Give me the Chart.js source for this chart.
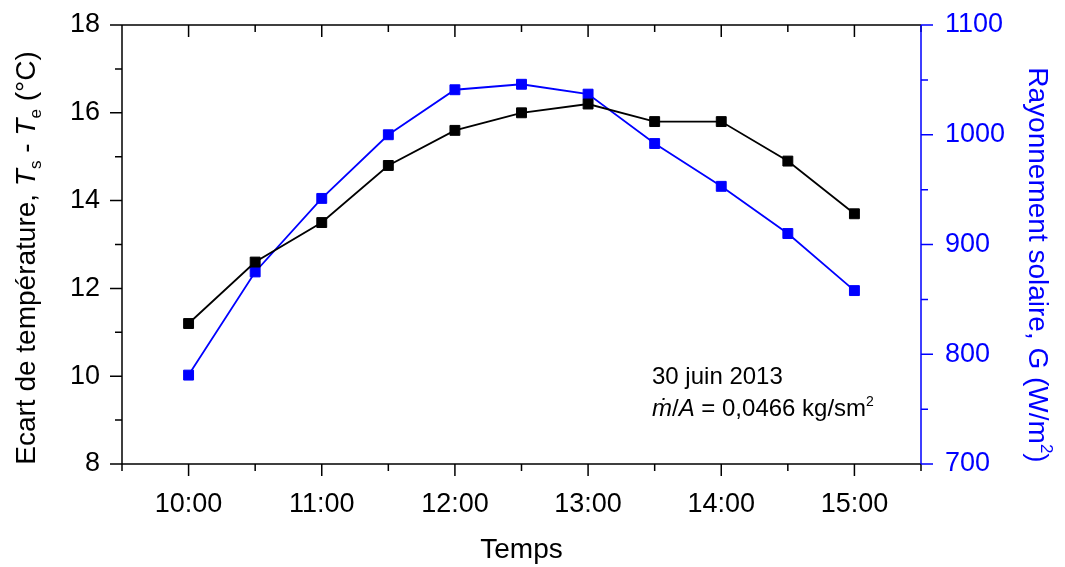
<!DOCTYPE html>
<html>
<head>
<meta charset="utf-8">
<script src="https://cdn.jsdelivr.net/npm/chart.js"></script>
<style>
html, body { margin: 0; padding: 0; background: #fff; }
#wrap { width: 1065px; height: 567px; }
</style>
</head>
<body>
<div id="wrap"><canvas id="myChart"></canvas></div>
<script>
// data
const hours = [10, 10.5, 11, 11.5, 12, 12.5, 13, 13.5, 14, 14.5, 15];
const ecart = [11.2, 12.6, 13.5, 14.8, 15.6, 16.0, 16.2, 15.8, 15.8, 14.9, 13.7];
const rayonnement = [781, 875, 942, 1000, 1041, 1046, 1037, 992, 953, 910, 858];

const xTicks = [10, 11, 12, 13, 14, 15];
const xLabels = ['10:00', '11:00', '12:00', '13:00', '14:00', '15:00'];
const leftTicks = [8, 10, 12, 14, 16, 18];
const rightTicks = [700, 800, 900, 1000, 1100];

const BLUE = '#0000ff';
const FONT = '"Liberation Sans", Arial, sans-serif';

function drawRich(ctx, parts, x, y, size, align) {
  const fontOf = p => (p.it ? 'italic ' : '') + Math.round(size * (p.sub || p.sup ? 0.6 : 1)) + 'px ' + FONT;
  let w = 0;
  parts.forEach(p => { ctx.font = fontOf(p); w += ctx.measureText(p.t).width; });
  let cx = align === 'center' ? x - w / 2 : x;
  parts.forEach(p => {
    ctx.font = fontOf(p);
    const dy = p.sub ? size * 0.22 : (p.sup ? -size * 0.42 : 0);
    ctx.fillText(p.t, cx, y + dy);
    cx += ctx.measureText(p.t).width;
  });
}

// frame, ticks, titles and note
const decor = {
  id: 'decor',
  afterDraw(chart) {
    const { ctx, chartArea: a, scales } = chart;
    const x = scales.x, y = scales.y, y1 = scales.y1;
    ctx.save();
    ctx.lineWidth = 1.5;
    ctx.strokeStyle = '#000';
    ctx.beginPath();
    ctx.moveTo(a.left, a.top); ctx.lineTo(a.right, a.top);
    ctx.moveTo(a.left, a.top); ctx.lineTo(a.left, a.bottom);
    ctx.moveTo(a.left, a.bottom); ctx.lineTo(a.right, a.bottom);
    for (let h = 9.5; h <= 15.5 + 1e-9; h += 0.5) {
      const px = x.getPixelForValue(h);
      const len = h % 1 === 0 ? 12 : 7;
      ctx.moveTo(px, a.bottom); ctx.lineTo(px, a.bottom + len);
      ctx.moveTo(px, a.top); ctx.lineTo(px, a.top + len);
    }
    for (let v = 8; v <= 18; v++) {
      const py = y.getPixelForValue(v);
      const len = v % 2 === 0 ? 12 : 7;
      ctx.moveTo(a.left, py); ctx.lineTo(a.left - len, py);
    }
    ctx.stroke();

    ctx.strokeStyle = BLUE;
    ctx.beginPath();
    ctx.moveTo(a.right, a.top); ctx.lineTo(a.right, a.bottom);
    for (let v = 700; v <= 1100; v += 50) {
      const py = y1.getPixelForValue(v);
      const len = v % 100 === 0 ? 12 : 7;
      ctx.moveTo(a.right, py); ctx.lineTo(a.right + len, py);
    }
    ctx.stroke();

    ctx.textBaseline = 'alphabetic';
    ctx.fillStyle = '#000';
    // x title
    drawRich(ctx, [{ t: 'Temps' }], (a.left + a.right) / 2, 558, 28, 'center');

    // left title
    ctx.save();
    ctx.translate(35, 258);
    ctx.rotate(-Math.PI / 2);
    drawRich(ctx, [
      { t: 'Ecart de température, ' }, { t: 'T', it: true }, { t: 's', sub: true },
      { t: ' - ' }, { t: 'T', it: true }, { t: 'e', sub: true }, { t: ' (°C)' }
    ], 0, 0, 28, 'center');
    ctx.restore();

    // right title
    ctx.save();
    ctx.fillStyle = BLUE;
    ctx.translate(1029, 265);
    ctx.rotate(Math.PI / 2);
    drawRich(ctx, [
      { t: 'Rayonnement solaire, G (W/m' }, { t: '2', sup: true }, { t: ')' }
    ], 0, 0, 28, 'center');
    ctx.restore();

    // note
    drawRich(ctx, [{ t: '30 juin 2013' }], 652, 384, 24, 'left');
    drawRich(ctx, [
      { t: 'ṁ', it: true }, { t: '/' }, { t: 'A', it: true }, { t: ' = 0,0466 kg/sm' }, { t: '2', sup: true }
    ], 652, 416, 24, 'left');
    ctx.restore();
  }
};

const fitY = w => s => { s.width = w; s.paddingTop = 0; s.paddingBottom = 0; };

const ctx = document.getElementById('myChart').getContext('2d');

const myChart = new Chart(ctx, {
  type: 'line',
  data: {
    datasets: [
      {
        label: 'Ecart',
        data: hours.map((h, i) => ({ x: h, y: ecart[i] })),
        yAxisID: 'y',
        borderColor: '#000',
        backgroundColor: '#000',
        borderWidth: 1.8,
        pointStyle: 'rect',
        pointRadius: 7,
        pointBorderWidth: 1,
        tension: 0
      },
      {
        label: 'Rayonnement',
        data: hours.map((h, i) => ({ x: h, y: rayonnement[i] })),
        yAxisID: 'y1',
        borderColor: BLUE,
        backgroundColor: BLUE,
        borderWidth: 1.8,
        pointStyle: 'rect',
        pointRadius: 7,
        pointBorderWidth: 1,
        tension: 0
      }
    ]
  },
  options: {
    responsive: true,
    maintainAspectRatio: false,
    animation: false,
    layout: { padding: { top: 25, left: 0, right: 0, bottom: 0 } },
    plugins: { legend: { display: false }, tooltip: { enabled: false } },
    scales: {
      x: {
        type: 'linear',
        min: 9.5,
        max: 15.5,
        afterBuildTicks: s => { s.ticks = xTicks.map(v => ({ value: v })); },
        afterFit: s => { s.height = 103; s.paddingLeft = 0; s.paddingRight = 0; },
        grid: { display: false },
        border: { display: false },
        ticks: {
          autoSkip: false,
          maxRotation: 0,
          padding: 16,
          color: '#000',
          font: { family: FONT, size: 27 },
          callback: (v, i) => xLabels[i]
        }
      },
      y: {
        position: 'left',
        min: 8,
        max: 18,
        afterBuildTicks: s => { s.ticks = leftTicks.map(v => ({ value: v })); },
        afterFit: fitY(122),
        grid: { display: false },
        border: { display: false },
        ticks: { padding: 14, color: '#000', font: { family: FONT, size: 27 }, callback: v => String(v) }
      },
      y1: {
        position: 'right',
        min: 700,
        max: 1100,
        afterBuildTicks: s => { s.ticks = rightTicks.map(v => ({ value: v })); },
        afterFit: fitY(144),
        grid: { display: false },
        border: { display: false },
        ticks: { padding: 16, color: BLUE, font: { family: FONT, size: 27 }, callback: v => String(v) }
      }
    }
  },
  plugins: [decor]
});
</script>
</body>
</html>
